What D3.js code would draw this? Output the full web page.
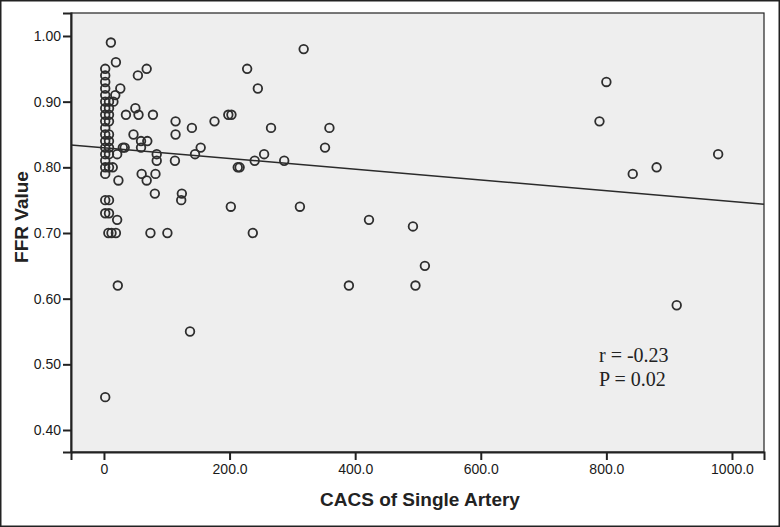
<!DOCTYPE html>
<html><head><meta charset="utf-8">
<script src="https://cdn.jsdelivr.net/npm/d3@7"></script>
<style>body{margin:0;background:#fff}svg{display:block}</style>
</head><body>
<svg id="c" width="780" height="527"></svg>
<script>
// CACS of single artery (x) vs FFR value (y)
const cacs = [
  2,2,2,2,2,2,2,2,2,2,2,2,2,2,2,2,2,2,2,2,
  8,8,8,8,8,8,8,8,8,8,8,7,
  11,19,54,68,26,18,15,35,50,55,78,114,114,140,47,59,69,59,30,33,84,84,113,145,21,14,60,68,23,82,81,124,123,21,12,19,74,101,22,137,
  318,228,245,198,203,176,266,359,352,154,255,240,287,213,216,202,312,422,237,390,492,511,496,800,789,978,880,842,912
];
const ffr = [
  0.95,0.94,0.93,0.92,0.91,0.90,0.89,0.88,0.87,0.86,0.85,0.84,0.83,0.82,0.81,0.80,0.79,0.75,0.73,0.45,
  0.90,0.89,0.88,0.87,0.85,0.84,0.83,0.82,0.80,0.75,0.73,0.70,
  0.99,0.96,0.94,0.95,0.92,0.91,0.90,0.88,0.89,0.88,0.88,0.87,0.85,0.86,0.85,0.84,0.84,0.83,0.83,0.83,0.82,0.81,0.81,0.82,0.82,0.80,0.79,0.78,0.78,0.79,0.76,0.76,0.75,0.72,0.70,0.70,0.70,0.70,0.62,0.55,
  0.98,0.95,0.92,0.88,0.88,0.87,0.86,0.86,0.83,0.83,0.82,0.81,0.81,0.80,0.80,0.74,0.74,0.72,0.70,0.62,0.71,0.65,0.62,0.93,0.87,0.82,0.80,0.79,0.59
];
const xTicks = [0, 200, 400, 600, 800, 1000];
const yTicks = [0.40, 0.50, 0.60, 0.70, 0.80, 0.90, 1.00];
const fitIntercept = 0.8297;   // fitted line
const fitSlope = -0.0000816;
const annotation = ["r = -0.23", "P = 0.02"];
const xTitle = "CACS of Single Artery";
const yTitle = "FFR Value";

const svg = d3.select("#c");
const L = 71, R = 764, T = 13, B = 452;
const x = d3.scaleLinear().domain([-52.5, 1051]).range([L, R]);
const y = d3.scaleLinear().domain([0.3665, 1.035]).range([B, T]);

// outer frame
svg.append("rect").attr("x",0.75).attr("y",0.75).attr("width",778.5).attr("height",525.5)
  .attr("fill","#fff").attr("stroke","#222").attr("stroke-width",1.5);
// plot background
svg.append("rect").attr("x",L).attr("y",T).attr("width",R-L).attr("height",B-T)
  .attr("fill","#eeeeee").attr("stroke","#222").attr("stroke-width",1.2);

// regression line
const xd = x.domain();
svg.append("line")
  .attr("x1", x(xd[0])).attr("y1", y(fitIntercept + fitSlope*xd[0]))
  .attr("x2", x(xd[1])).attr("y2", y(fitIntercept + fitSlope*xd[1]))
  .attr("stroke","#2a2a2a").attr("stroke-width",1.5);

// points
svg.append("g").selectAll("circle").data(d3.range(cacs.length)).join("circle")
  .attr("cx", i => x(cacs[i])).attr("cy", i => y(ffr[i])).attr("r", 4.3)
  .attr("fill","none").attr("stroke","#2e2e2e").attr("stroke-width",1.8);

// axes
const xAxis = d3.axisBottom(x).tickValues(xTicks).tickSize(8).tickPadding(4)
  .tickFormat(d => d === 0 ? "0" : d3.format(".1f")(d));
const gx = svg.append("g").attr("transform",`translate(0,${B})`).call(xAxis);
const yAxis = d3.axisLeft(y).tickValues(yTicks).tickSize(8).tickPadding(2)
  .tickFormat(d3.format(".2f"));
const gy = svg.append("g").attr("transform",`translate(${L},0)`).call(yAxis);
[gx, gy].forEach(g => {
  g.select(".domain").attr("stroke","#222").attr("stroke-width",2);
  g.selectAll(".tick line").attr("stroke","#222").attr("stroke-width",2);
  g.selectAll(".tick text").attr("fill","#1a1a1a").attr("font-family","Liberation Sans, Arial, sans-serif").attr("font-size",14);
});

// titles
svg.append("text").attr("x",420).attr("y",506).attr("text-anchor","middle")
  .attr("font-family","Liberation Sans, Arial, sans-serif").attr("font-weight","bold")
  .attr("font-size",19).attr("fill","#222").text(xTitle);
svg.append("text").attr("transform",`translate(28,217) rotate(-90)`).attr("text-anchor","middle")
  .attr("font-family","Liberation Sans, Arial, sans-serif").attr("font-weight","bold")
  .attr("font-size",19).attr("fill","#222").text(yTitle);

// annotation
svg.append("g").selectAll("text").data(annotation).join("text")
  .attr("x",599).attr("y",(d,i)=>362+i*24)
  .attr("font-family","Liberation Serif, Times New Roman, serif").attr("font-size",20)
  .attr("fill","#222").text(d=>d);
</script>
</body></html>
